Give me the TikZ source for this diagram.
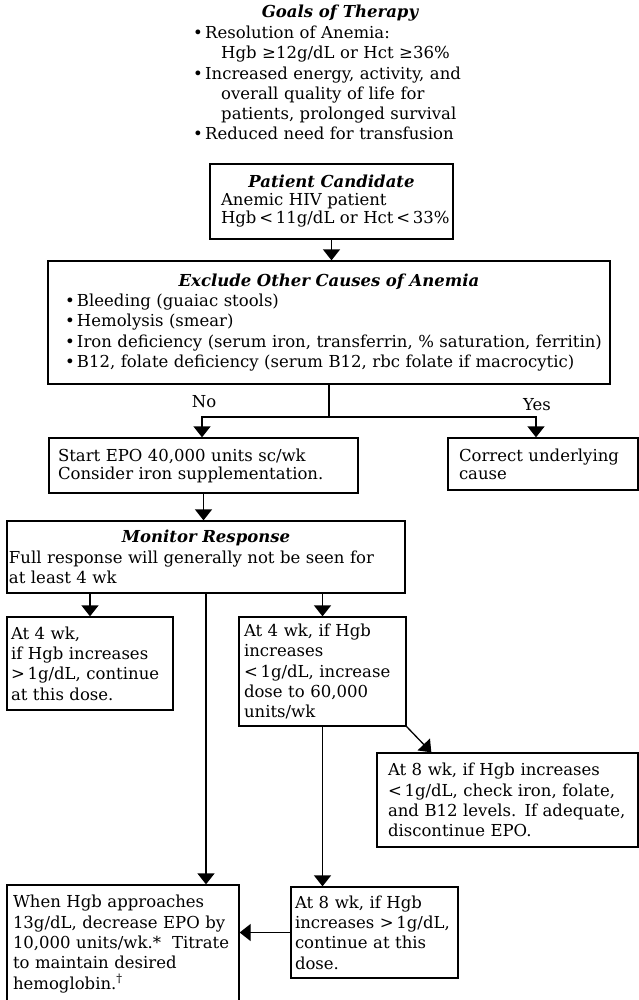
\documentclass[tikz,border=0pt]{standalone}
\usepackage{fontspec}
\setmainfont{DejaVu Serif}
\usetikzlibrary{arrows.meta}

\newcommand{\ttl}[1]{\makebox[\linewidth]{\bfseries\itshape #1}}
\newcommand{\blt}{\makebox[12pt][l]{\textbullet}}

\begin{document}
\begin{tikzpicture}[
    x=1pt, y=-1pt,
    font=\fontsize{16.5pt}{20.3pt}\selectfont,
    box/.style={
        rectangle,
        draw=black,
        line width=1.3pt,
        align=left,
        inner ysep=0pt
    },
    tight/.style={font=\fontsize{16.5pt}{18pt}\selectfont},
    link/.style={line width=1.3pt},
    arrow/.style={-{Triangle[length=11pt, width=17pt]}, line width=1.3pt}
]
\useasboundingbox (0,0) rectangle (639,1000);

% === Goals of therapy ===
\node[font=\fontsize{16.5pt}{20pt}\selectfont\bfseries\itshape] (goalstitle) at (340,13) {Goals of Therapy};
\node[anchor=base west, align=left, inner sep=0pt, text width=300pt] (goals) at (193,38.5) {%
    \blt Resolution of Anemia:\\
    \hspace*{28pt}Hgb ≥12g/dL or Hct ≥36\%\\
    \blt Increased energy, activity, and\\
    \hspace*{28pt}overall quality of life for\\
    \hspace*{28pt}patients, prolonged survival\\
    \blt Reduced need for transfusion};

% === Candidate and exclusion ===
\node[box, tight, text width=221pt, inner xsep=11pt, minimum height=75pt] (patient) at (331.5,201.5)
    {\ttl{Patient Candidate}\\ Anemic HIV patient\\ \mbox{Hgb\,<\,11g/dL or Hct\,<\,33\%}};
\node[box, text width=548pt, inner xsep=7pt, minimum height=123pt] (exclude) at (329,322.5)
    {\ttl{Exclude Other Causes of Anemia}\\
     \hspace*{10pt}\blt Bleeding (guaiac stools)\\
     \hspace*{10pt}\blt Hemolysis (smear)\\
     \hspace*{10pt}\blt \mbox{Iron deficiency (serum iron, transferrin, \% saturation, ferritin)}\\
     \hspace*{10pt}\blt \mbox{B12, folate deficiency (serum B12, rbc folate if macrocytic)}};
\draw[arrow] (patient.south) -- (patient.south |- exclude.north);

% === No / Yes split ===
\coordinate (split) at (329,417);
\node[box, tight, text width=291pt, inner xsep=9pt, minimum height=55pt] (start) at (203.5,465.5)
    {Start EPO 40,000 units sc/wk\\ Consider iron supplementation.};
\node[box, tight, text width=168pt, inner xsep=11pt, minimum height=52pt] (correct) at (543,464)
    {Correct underlying\\ cause};
\draw[link] (exclude.south) -- (split);
\draw[arrow] (split) -| ([xshift=-1.5pt]start.north);
\draw[arrow] (split) -| ([xshift=-7pt]correct.north);
\node (no) at (204,402) {No};
\node (yes) at (537,405) {Yes};

% === Monitor response ===
\node[box, text width=394pt, inner xsep=2pt, minimum height=72pt] (monitor) at (206,557)
    {\ttl{Monitor Response}\\ \mbox{Full response will generally not be seen for}\\ at least 4 wk};
\draw[arrow] (start.south) -- (start.south |- monitor.north);

% === 4 wk outcomes ===
\node[box, text width=158pt, inner xsep=4pt, minimum height=93pt] (hiresp) at (90,663.5)
    {At 4 wk,\\ if Hgb increases\\ \mbox{>\,1g/dL, continue}\\ at this dose.};
\node[box, text width=157pt, inner xsep=5pt, minimum height=109pt] (loresp) at (322.5,671.5)
    {At 4 wk, if Hgb\\ increases\\ \mbox{<\,1g/dL, increase}\\ dose to 60,000\\ units/wk};
\draw[arrow] (monitor.south -| hiresp.north) -- (hiresp.north);
\draw[arrow] (monitor.south -| loresp.north) -- (loresp.north);

% === 8 wk outcomes ===
\node[box, text width=239pt, inner xsep=11pt, minimum height=94pt] (eightlo) at (507.5,800)
    {At 8 wk, if Hgb increases\\ \mbox{<\,1g/dL, check iron, folate,}\\ \mbox{and B12 levels. If adequate,}\\ discontinue EPO.};
\node[box, text width=159pt, inner xsep=4pt, minimum height=91pt] (eighthi) at (374.5,932.5)
    {At 8 wk, if Hgb\\ \mbox{increases >\,1g/dL,}\\ continue at this\\ dose.};
\draw[arrow] (loresp.south east) -- ([xshift=55pt]eightlo.north west);
\draw[arrow] (loresp.south) -- (loresp.south |- eighthi.north);

% === Taper ===
\node[box, text width=220pt, inner xsep=6pt, minimum height=118pt] (taper) at (123,944)
    {When Hgb approaches\\ \mbox{13g/dL, decrease EPO by}\\ \mbox{10,000 units/wk.*\ \ Titrate}\\ to maintain desired\\ hemoglobin.\textsuperscript{\textdagger}};
\draw[arrow] (monitor.south) -- (monitor.south |- taper.north);
\draw[arrow] (eighthi.west) -- (eighthi.west -| taper.east);

\end{tikzpicture}
\end{document}
